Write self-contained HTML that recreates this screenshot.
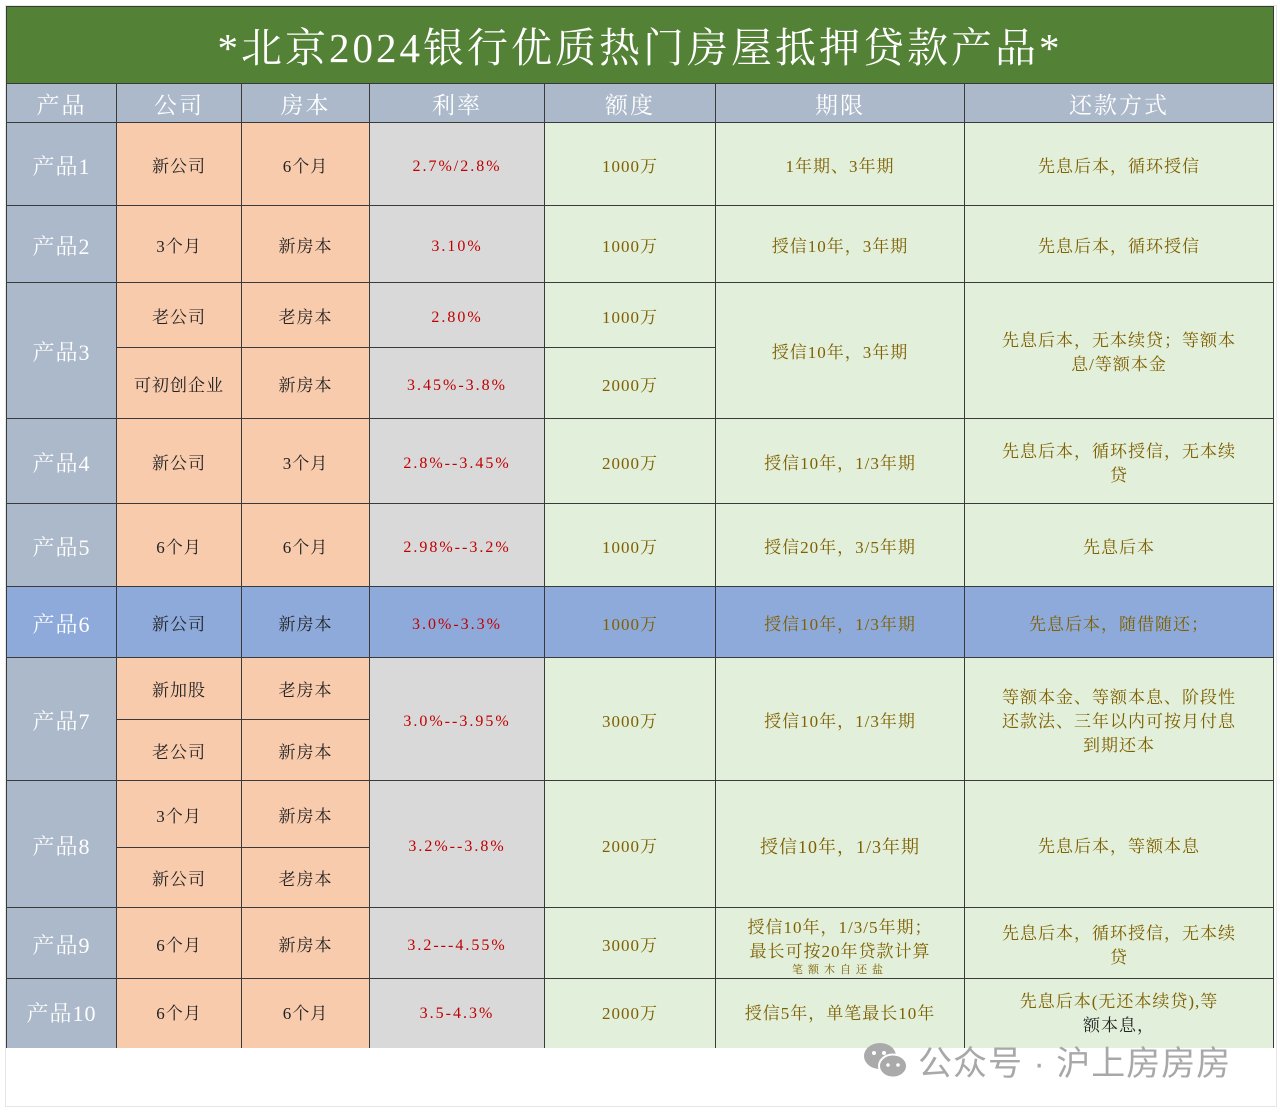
<!DOCTYPE html>
<html><head><meta charset="utf-8"><style>
body{margin:0;width:1280px;height:1112px;background:#fff;position:relative;overflow:hidden;font-family:"Liberation Serif","Noto Serif CJK SC",serif;}
.c{position:absolute;box-sizing:border-box;border-right:1px solid #3a3a3a;border-bottom:1px solid #3a3a3a;display:flex;align-items:center;justify-content:center;text-align:center;font-size:17px;line-height:24px;color:#7f6000;padding-top:5px;}
.p{background:#acb9ca;color:#fff;font-size:22px;letter-spacing:1px;}
.h{background:#acb9ca;color:#fff;font-size:23px;letter-spacing:2px;}
.o{background:#f8cbad;color:#222;letter-spacing:1px;}
.r{background:#d9d9d9;color:#c00000;font-size:16px;letter-spacing:2px;}
.g{background:#e2efda;letter-spacing:1px;}
.b{background:#8eaadb!important;}
</style></head><body>
<div style="position:absolute;left:5px;top:5px;width:1270px;height:1100px;border:1px solid #e6e6e6;"></div>
<div class="c" style="left:6px;top:6px;width:1268px;height:78px;background:#538135;color:#fff;font-size:41px;letter-spacing:3px;border-left:1px solid #3a3a3a;border-top:1px solid #3a3a3a;">*北京2024银行优质热门房屋抵押贷款产品*</div>
<div id="t"></div>
<div style="position:absolute;left:862px;top:1040px;width:44px;height:40px;">
<svg width="48" height="42" viewBox="0 0 48 42"><ellipse cx="18" cy="16" rx="16" ry="13" fill="#aaa"/><ellipse cx="31" cy="26" rx="14" ry="11.5" fill="#aaa" stroke="#fff" stroke-width="2"/><circle cx="12" cy="13" r="2" fill="#fff"/><circle cx="22" cy="13" r="2" fill="#fff"/><circle cx="26" cy="25" r="1.8" fill="#fff"/><circle cx="36" cy="25" r="1.8" fill="#fff"/></svg></div>
<div style="position:absolute;left:918px;top:1036px;font-family:'Liberation Sans','Noto Sans CJK SC',sans-serif;font-size:34px;color:#a8a8a8;letter-spacing:1px;">公众号 · 沪上房房房</div>
<script>
var X=[6,117,242,370,545,716,965,1274];
var cells=[
['h',0,1,84,123,'产品'],['h',1,2,84,123,'公司'],['h',2,3,84,123,'房本'],['h',3,4,84,123,'利率'],['h',4,5,84,123,'额度'],['h',5,6,84,123,'期限'],['h',6,7,84,123,'还款方式'],
['p',0,1,123,206,'产品1'],['o',1,2,123,206,'新公司'],['o',2,3,123,206,'6个月'],['r',3,4,123,206,'2.7%/2.8%'],['g',4,5,123,206,'1000万'],['g',5,6,123,206,'1年期、3年期'],['g',6,7,123,206,'先息后本，循环授信'],
['p',0,1,206,283,'产品2'],['o',1,2,206,283,'3个月'],['o',2,3,206,283,'新房本'],['r',3,4,206,283,'3.10%'],['g',4,5,206,283,'1000万'],['g',5,6,206,283,'授信10年，3年期'],['g',6,7,206,283,'先息后本，循环授信'],
['p',0,1,283,419,'产品3'],['o',1,2,283,348,'老公司'],['o',2,3,283,348,'老房本'],['r',3,4,283,348,'2.80%'],['g',4,5,283,348,'1000万'],['o',1,2,348,419,'可初创企业'],['o',2,3,348,419,'新房本'],['r',3,4,348,419,'3.45%-3.8%'],['g',4,5,348,419,'2000万'],['g',5,6,283,419,'授信10年，3年期'],['g',6,7,283,419,'先息后本，无本续贷；等额本<br>息/等额本金'],
['p',0,1,419,504,'产品4'],['o',1,2,419,504,'新公司'],['o',2,3,419,504,'3个月'],['r',3,4,419,504,'2.8%--3.45%'],['g',4,5,419,504,'2000万'],['g',5,6,419,504,'授信10年，1/3年期'],['g',6,7,419,504,'先息后本，循环授信，无本续<br>贷'],
['p',0,1,504,587,'产品5'],['o',1,2,504,587,'6个月'],['o',2,3,504,587,'6个月'],['r',3,4,504,587,'2.98%--3.2%'],['g',4,5,504,587,'1000万'],['g',5,6,504,587,'授信20年，3/5年期'],['g',6,7,504,587,'先息后本'],
['p b',0,1,587,658,'产品6'],['o b',1,2,587,658,'新公司'],['o b',2,3,587,658,'新房本'],['r b',3,4,587,658,'3.0%-3.3%'],['g b',4,5,587,658,'1000万'],['g b',5,6,587,658,'授信10年，1/3年期'],['g b',6,7,587,658,'先息后本，随借随还；'],
['p',0,1,658,781,'产品7'],['o',1,2,658,720,'新加股'],['o',2,3,658,720,'老房本'],['o',1,2,720,781,'老公司'],['o',2,3,720,781,'新房本'],['r',3,4,658,781,'3.0%--3.95%'],['g',4,5,658,781,'3000万'],['g',5,6,658,781,'授信10年，1/3年期'],['g',6,7,658,781,'等额本金、等额本息、阶段性<br>还款法、三年以内可按月付息<br>到期还本'],
['p',0,1,781,908,'产品8'],['o',1,2,781,848,'3个月'],['o',2,3,781,848,'新房本'],['o',1,2,848,908,'新公司'],['o',2,3,848,908,'老房本'],['r',3,4,781,908,'3.2%--3.8%'],['g',4,5,781,908,'2000万'],['g',5,6,781,908,'<span style="font-size:18px">授信10年，1/3年期</span>'],['g',6,7,781,908,'先息后本，等额本息'],
['p',0,1,908,979,'产品9'],['o',1,2,908,979,'6个月'],['o',2,3,908,979,'新房本'],['r',3,4,908,979,'3.2---4.55%'],['g',4,5,908,979,'3000万'],['g',5,6,908,979,'<div>授信10年，1/3/5年期；<br>最长可按20年贷款计算<div style="font-size:11px;line-height:12px;letter-spacing:5px">笔额木自还盐</div></div>'],['g',6,7,908,979,'先息后本，循环授信，无本续<br>贷'],
['p',0,1,979,1060,'产品10'],['o',1,2,979,1060,'6个月'],['o',2,3,979,1060,'6个月'],['r',3,4,979,1060,'3.5-4.3%'],['g',4,5,979,1060,'2000万'],['g',5,6,979,1060,'授信5年，单笔最长10年'],['g',6,7,979,1060,'<div>先息后本(无还本续贷),等<br><span style="color:#222">额本息，</span></div>']
];
var h='';
cells.forEach(function(c){
 var st='left:'+X[c[1]]+'px;top:'+c[3]+'px;width:'+(X[c[2]]-X[c[1]])+'px;height:'+(c[4]-c[3])+'px;';
 if(c[1]==0)st+='border-left:1px solid #3a3a3a;';
 if(c[4]==1060)st+='height:69px;border-bottom:none;padding-top:0;';
 h+='<div class="c '+c[0]+'" style="'+st+'">'+c[5]+'</div>';
});
document.getElementById('t').innerHTML=h;
</script>
</body></html>
